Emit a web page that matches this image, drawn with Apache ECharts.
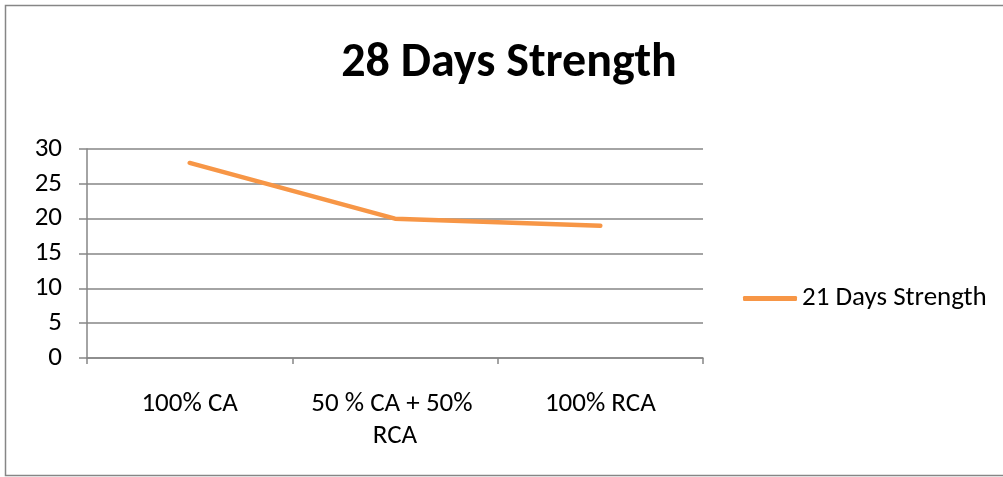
<!DOCTYPE html>
<html>
<head>
<meta charset="utf-8">
<script src="https://cdn.jsdelivr.net/npm/echarts@6/dist/echarts.min.js"></script>
<style>
  html, body { margin: 0; padding: 0; background: #fff; }
  #chart { width: 1003px; height: 477px; }
</style>
</head>
<body>
<div id="chart"></div>
<script>
// Compressive strength by aggregate mix
const categories = ['100% CA', '50 % CA + 50% RCA', '100% RCA'];
const strength21 = [28, 20, 19];
const yTicks = [0, 5, 10, 15, 20, 25, 30];

const FONT = 'Carlito, Lato, "Open Sans", sans-serif';
const GRAY = '#868686';
const ORANGE = '#F79646';

const chart = echarts.init(document.getElementById('chart'), null, { renderer: 'canvas' });
chart.setOption({
  backgroundColor: '#fff',
  animation: false,
  title: {
    text: '28 Days Strength',
    left: 509,
    top: 40,
    padding: 0,
    textAlign: 'center',
    textStyle: { fontFamily: FONT, fontWeight: 'bold', fontSize: 48, color: '#000' }
  },
  legend: {
    data: [{ name: '21 Days Strength', icon: 'roundRect' }],
    left: 743,
    top: 285,
    padding: 0,
    itemWidth: 54,
    itemHeight: 5,
    itemGap: 5,
    itemStyle: { color: ORANGE },
    textStyle: { fontFamily: FONT, fontSize: 27, color: '#000' }
  },
  grid: { left: 87, right: 300, top: 149, bottom: 119, containLabel: false },
  xAxis: {
    type: 'category',
    data: categories,
    boundaryGap: true,
    axisLine: { lineStyle: { color: GRAY, width: 1.5 } },
    axisTick: { show: true, length: 6, lineStyle: { color: GRAY, width: 1.5 } },
    axisLabel: {
      color: '#000', fontFamily: FONT, fontSize: 27, margin: 30,
      lineHeight: 32, width: 195, overflow: 'break', interval: 0
    },
    splitLine: { show: false }
  },
  yAxis: {
    type: 'value',
    min: yTicks[0],
    max: yTicks[yTicks.length - 1],
    interval: 5,
    axisLine: { show: true, lineStyle: { color: GRAY, width: 1.5 } },
    axisTick: { show: true, length: 8, lineStyle: { color: GRAY, width: 1.5 } },
    axisLabel: { color: '#000', fontFamily: FONT, fontSize: 27, margin: 25 },
    splitLine: { show: true, lineStyle: { color: GRAY, width: 1.5 } }
  },
  series: [{
    name: '21 Days Strength',
    type: 'line',
    data: strength21,
    symbol: 'none',
    color: ORANGE,
    lineStyle: { color: ORANGE, width: 4.5, cap: 'round', join: 'round' }
  }],
  graphic: [{
    type: 'rect',
    shape: { x: 5.5, y: 5.5, width: 1010, height: 470 },
    style: { fill: 'none', stroke: GRAY, lineWidth: 1.5 },
    silent: true
  }]
});
</script>
</body>
</html>
